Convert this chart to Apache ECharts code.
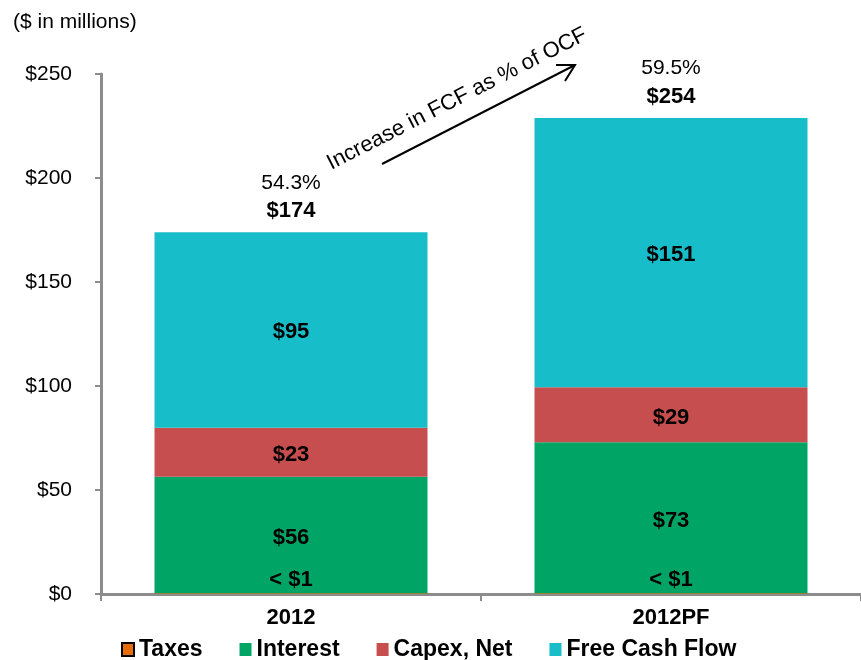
<!DOCTYPE html>
<html><head><meta charset="utf-8">
<script src="https://cdn.jsdelivr.net/npm/echarts@6/dist/echarts.min.js"></script>
<style>html,body{margin:0;padding:0;background:#fff}#c{width:861px;height:660px}</style>
</head><body><div id="c"></div>
<script>
const categories = ['2012', '2012PF'];
const taxes = [0.4, 0.4];
const interest = [56, 72.5];
const capex = [23.5, 26.5];
const fcf = [94, 129.5];
const taxesLabels = ['< $1', '< $1'];
const interestLabels = ['$56', '$73'];
const capexLabels = ['$23', '$29'];
const fcfLabels = ['$95', '$151'];
const totalLabels = ['$174', '$254'];
const pctLabels = ['54.3%', '59.5%'];
const yTicks = [0, 50, 100, 150, 200, 250];

const FONT = '"Liberation Sans", Arial, sans-serif';
const chart = echarts.init(document.getElementById('c'));
const lbl = (arr, extra) => Object.assign({
  show: true, position: 'inside', color: '#000', fontFamily: FONT,
  fontWeight: 'bold', fontSize: 22,
  formatter: p => arr[p.dataIndex]
}, extra || {});
const totals = categories.map((c, i) => taxes[i] + interest[i] + capex[i] + fcf[i]);

chart.setOption({
  animation: false,
  textStyle: { fontFamily: FONT },
  grid: { left: 101, right: -10, top: 74, bottom: 66 },
  legend: {
    top: 638, left: 121, itemWidth: 12, itemHeight: 13, itemGap: 37, padding: 0,
    icon: 'rect',
    textStyle: { fontFamily: FONT, fontWeight: 'bold', fontSize: 23, color: '#000' },
    data: [
      { name: 'Taxes', itemStyle: { borderColor: '#000', borderWidth: 2 } },
      'Interest', 'Capex, Net', 'Free Cash Flow'
    ]
  },
  xAxis: {
    type: 'category', data: categories,
    axisLine: { lineStyle: { color: '#8c8c8c', width: 3 } },
    axisTick: { show: true, length: 7, lineStyle: { color: '#8c8c8c', width: 2 } },
    axisLabel: { color: '#000', fontFamily: FONT, fontWeight: 'bold', fontSize: 22, margin: 13 }
  },
  yAxis: {
    type: 'value', min: 0, max: 250, interval: 50,
    axisLine: { show: true, lineStyle: { color: '#8c8c8c', width: 3 } },
    axisTick: { show: true, length: 6, lineStyle: { color: '#8c8c8c', width: 2 } },
    splitLine: { show: false },
    axisLabel: { color: '#000', fontFamily: FONT, fontSize: 21, margin: 29,
      formatter: v => yTicks.includes(v) ? '$' + v : '' }
  },
  series: [
    { name: 'Taxes', type: 'bar', stack: 't', barWidth: 273, data: taxes,
      itemStyle: { color: '#E46C0A' },
      label: lbl(taxesLabels, { position: 'top', distance: 2 }) },
    { name: 'Interest', type: 'bar', stack: 't', data: interest,
      itemStyle: { color: '#00A464' },
      label: lbl(interestLabels, { offset: [0, 3] }) },
    { name: 'Capex, Net', type: 'bar', stack: 't', data: capex,
      itemStyle: { color: '#C64E4E' },
      label: lbl(capexLabels, { offset: [0, 3] }) },
    { name: 'Free Cash Flow', type: 'bar', stack: 't', data: fcf,
      itemStyle: { color: '#17BEC9' },
      label: lbl(fcfLabels, { offset: [0, 2] }) },
    { name: 'totals', type: 'scatter', symbolSize: 0, data: totals,
      silent: true, z: 10, itemStyle: { opacity: 1 },
      label: { show: true, position: 'top', distance: 8, color: '#000', opacity: 1,
        fontFamily: FONT, lineHeight: 31,
        formatter: p => '{p|' + pctLabels[p.dataIndex] + '}\n{t|' + totalLabels[p.dataIndex] + '}',
        rich: {
          p: { fontSize: 21, fontFamily: FONT, color: '#000', lineHeight: 31 },
          t: { fontSize: 22, fontWeight: 'bold', fontFamily: FONT, color: '#000', lineHeight: 26 }
        } } }
  ],
  graphic: [
    { type: 'text', left: 13, top: 12,
      style: { text: '($ in millions)', fontFamily: FONT, fontSize: 21, fill: '#000' } },
    { type: 'line', shape: { x1: 382, y1: 164, x2: 575, y2: 65 },
      style: { stroke: '#000', lineWidth: 2 } },
    { type: 'polyline', shape: { points: [[556, 65], [575, 65], [565, 81]] },
      style: { stroke: '#000', lineWidth: 2, fill: null } },
    { type: 'text', x: 457, y: 99, rotation: 27 * Math.PI / 180,
      style: { text: 'Increase in FCF as % of OCF', fontFamily: FONT, fontSize: 22,
        fill: '#000', align: 'center', verticalAlign: 'middle' } }
  ]
});
</script></body></html>
